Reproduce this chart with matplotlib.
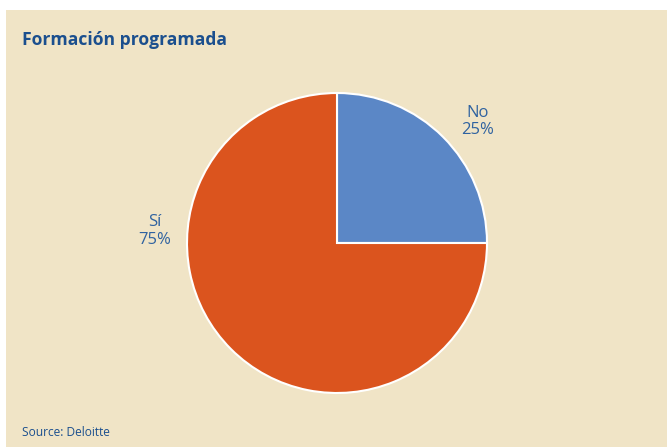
import matplotlib.pyplot as plt
from matplotlib.patches import Rectangle

title = "Formación programada"
source = "Source: Deloitte"
labels = ["No", "Sí"]
values = [25, 75]
colors = ["#5B87C6", "#DB541E"]

bg = "#F0E4C6"
text_blue = "#2F62A0"
title_blue = "#1B4F8E"

plt.rcParams['font.family'] = ['Open Sans', 'DejaVu Sans']

W, H = 667, 447
fig = plt.figure(figsize=(W / 100, H / 100), dpi=100, facecolor="white")
fig.patches.append(Rectangle((6 / W, 0), 1 - 6 / W, 1 - 10 / H, transform=fig.transFigure,
                             facecolor=bg, edgecolor="none", zorder=-1))

# pie centred at (337, 243) px with radius 150 px
cx, cy, r = 337, 243, 150
ax = fig.add_axes([(cx - r) / W, (H - cy - r) / H, 2 * r / W, 2 * r / H])
ax.set_facecolor("none")
ax.set_zorder(1)
wedges, _ = ax.pie(values, colors=colors, startangle=90, counterclock=False,
                   wedgeprops=dict(edgecolor="white", linewidth=1.5))
ax.set_xlim(-1, 1)
ax.set_ylim(-1, 1)
ax.set_aspect("auto")
ax.axis("off")

# label spots in pie units
label_pos = [(0.935, 0.81), (-1.213, 0.08)]
for lab, v, (x, y) in zip(labels, values, label_pos):
    ax.text(x, y, f"{lab}\n{v}%", ha="center", va="center", fontsize=12,
            color=text_blue, linespacing=1.12, clip_on=False)

fig.text(22 / W, 1 - 40 / H, title, fontsize=12.6, fontweight="bold", color=title_blue,
         ha="left", va="center")
fig.text(22 / W, 1 - 432 / H, source, fontsize=8.6, color=title_blue, ha="left", va="center")

fig.savefig("out.png", dpi=100, facecolor=fig.get_facecolor())
